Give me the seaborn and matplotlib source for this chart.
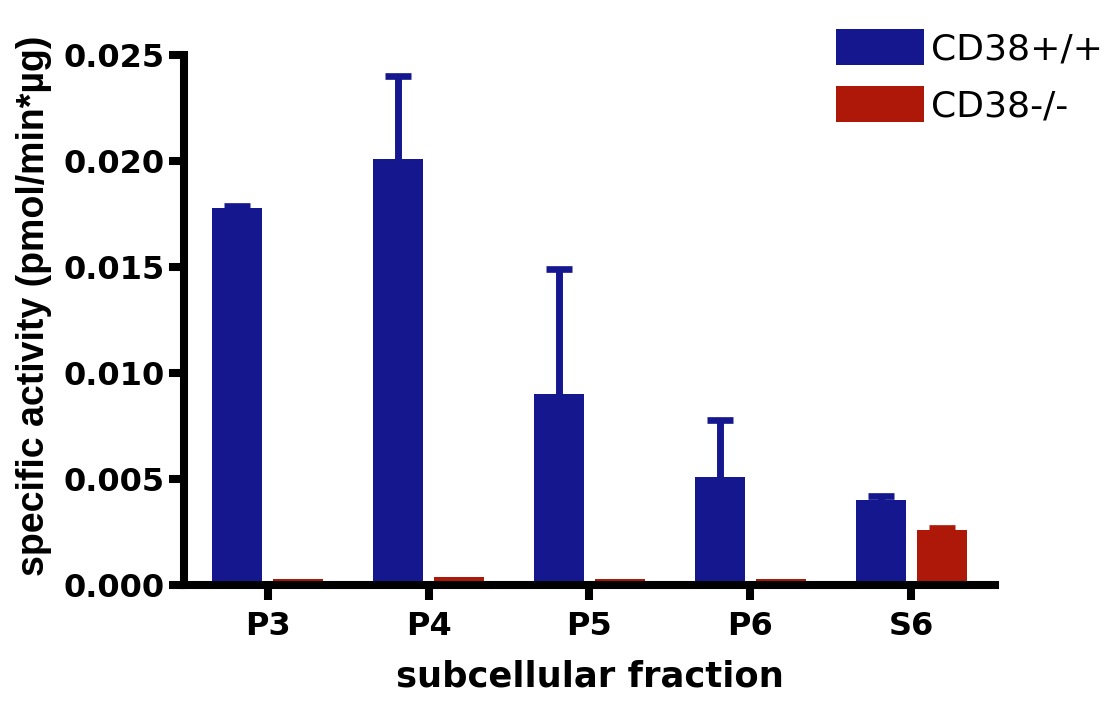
import numpy as np
import pandas as pd
import matplotlib
matplotlib.use("Agg")
import matplotlib.pyplot as plt
import seaborn as sns
from matplotlib.patches import Patch

# Specific activity per subcellular fraction (mean and upper SEM)
fractions = ["P3", "P4", "P5", "P6", "S6"]
genotypes = ["CD38+/+", "CD38-/-"]
wt_mean = [0.0178, 0.0201, 0.0090, 0.0051, 0.0040]
wt_err = [0.0001, 0.0039, 0.0059, 0.0027, 0.0002]
ko_mean = [0.0003, 0.0004, 0.0003, 0.0003, 0.0026]
ko_err = [0.0000, 0.0000, 0.0000, 0.0000, 0.0001]
yticks = [0.000, 0.005, 0.010, 0.015, 0.020, 0.025]

colors = {"CD38+/+": "#15178F", "CD38-/-": "#AD1809"}

df = pd.DataFrame({
    "fraction": fractions * 2,
    "genotype": [genotypes[0]] * len(fractions) + [genotypes[1]] * len(fractions),
    "activity": wt_mean + ko_mean,
    "err": wt_err + ko_err,
})

sns.set_theme(style="ticks")
plt.rcParams["font.family"] = ["DejaVu Sans"]
plt.rcParams["text.color"] = "black"

fig = plt.figure(figsize=(11.17, 7.06), dpi=100)
ax = fig.add_axes([0.1647, 0.1714, 0.7261, 0.7507])

sns.barplot(data=df, x="fraction", y="activity", hue="genotype",
            order=fractions, hue_order=genotypes, palette=colors,
            width=0.76, gap=0.18, errorbar=None, saturation=1,
            linewidth=0, ax=ax, legend=False, zorder=3)

# one-sided (upper) error bars, placed at each bar's centre
for genotype in genotypes:
    sub = df[df["genotype"] == genotype].set_index("fraction").loc[fractions]
    bars = [p for p in ax.patches
            if np.allclose(p.get_facecolor()[:3], matplotlib.colors.to_rgb(colors[genotype]))]
    bars = sorted(bars, key=lambda p: p.get_x())
    xs = np.array([p.get_x() + p.get_width() / 2 for p in bars])
    err = sub["err"].to_numpy()
    mean = sub["activity"].to_numpy()
    has_err = err > 0
    if not has_err.any():
        continue
    _, caps, _ = ax.errorbar(xs[has_err], mean[has_err],
                             yerr=[np.zeros(has_err.sum()), err[has_err]], fmt="none",
                             ecolor=colors[genotype], elinewidth=5,
                             capsize=9.4, capthick=4.8, zorder=2)
    caps[0].set_visible(False)

ax.set_xlim(-0.52, 4.52)
ax.set_ylim(0, 0.025)
ax.set_yticks(yticks)
ax.set_yticklabels([f"{v:.3f}" for v in yticks])

for side in ["top", "right"]:
    ax.spines[side].set_visible(False)
for side in ["left", "bottom"]:
    ax.spines[side].set_linewidth(5.8)
    ax.spines[side].set_color("black")
    ax.spines[side].set_zorder(4)
    ax.spines[side].set_capstyle("projecting")

ax.tick_params(axis="both", length=11, width=5.8, color="black",
               labelsize=23, labelcolor="black")
ax.tick_params(axis="y", pad=3)
ax.tick_params(axis="x", pad=8)
for lab in ax.get_xticklabels() + ax.get_yticklabels():
    lab.set_fontweight("bold")

ax.set_xlabel("subcellular fraction", fontsize=25.5, fontweight="bold",
              labelpad=12, color="black")
ax.set_ylabel("specific activity (pmol/min*µg)", fontsize=27,
              fontweight="bold", color="black",
              family=["Liberation Sans", "DejaVu Sans"])
ax.yaxis.set_label_coords(-0.163, 0.526)

handles = [Patch(facecolor=colors[g], edgecolor="none", label=g) for g in genotypes]
leg = fig.legend(handles=handles, loc="upper left",
                 bbox_to_anchor=(0.7484, 0.9589), bbox_transform=fig.transFigure,
                 frameon=False, borderpad=0, borderaxespad=0,
                 handlelength=2.54 * 25 / 26, handleheight=1.21 * 25 / 26,
                 handletextpad=0.2, labelspacing=0.55,
                 prop={"family": "DejaVu Sans", "size": 26})
for t in leg.get_texts():
    t.set_color("black")

fig.savefig("out.png", dpi=100, facecolor="white")
